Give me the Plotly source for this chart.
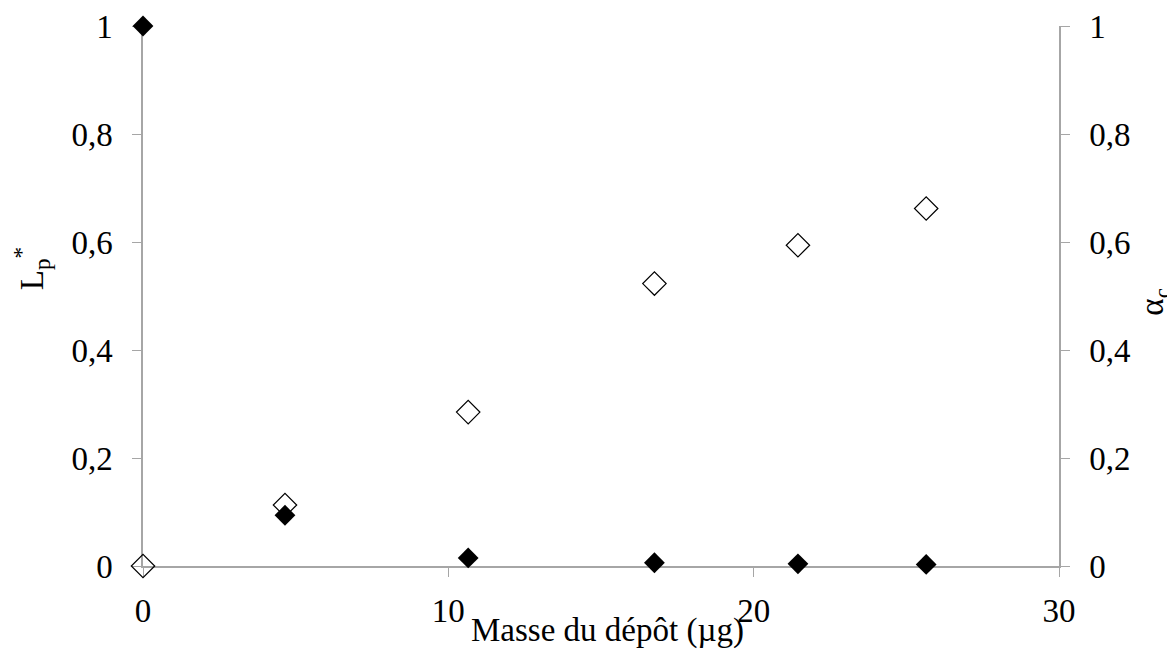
import plotly.graph_objects as go

masse = [0, 4.65, 10.65, 16.75, 21.45, 25.65]
lp_star = [1.0, 0.094, 0.015, 0.006, 0.004, 0.003]
alpha_c = [0.0, 0.113, 0.285, 0.523, 0.594, 0.662]

FONT = "Liberation Serif, Times New Roman, serif"
AX = "#a6a6a6"
FS = 33

fig = go.Figure()
fig.add_trace(go.Scatter(x=masse, y=alpha_c, mode="markers", yaxis="y2",
                         marker=dict(symbol="diamond-open", size=18, color="black",
                                     line=dict(width=1.2, color="black")),
                         name="α_c"))
fig.add_trace(go.Scatter(x=masse, y=lp_star, mode="markers",
                         marker=dict(symbol="diamond", size=16, color="black"),
                         name="L_p*"))

common = dict(showgrid=False, zeroline=False, showline=True, linecolor=AX, linewidth=1.5,
              ticks="outside", ticklen=9, tickcolor=AX, tickwidth=1.2, automargin=False,
              tickfont=dict(family=FONT, size=FS, color="black"))
yt = [0, 0.2, 0.4, 0.6, 0.8, 1]

fig.update_layout(
    width=1167, height=643,
    margin=dict(l=135, r=116, t=18, b=85),
    plot_bgcolor="white", paper_bgcolor="white",
    separators=", ",
    showlegend=False,
    font=dict(family=FONT, size=FS, color="black"),
    xaxis=dict(range=[0, 30], tickvals=[0, 10, 20, 30], ticklabelstandoff=6, **common),
    yaxis=dict(range=[0, 1], tickvals=yt, ticklabelstandoff=13, **common),
    yaxis2=dict(range=[0, 1], tickvals=yt, overlaying="y", side="right",
                ticklabelstandoff=13, **common),
    annotations=[
        dict(text="Masse du dépôt (µg)", xref="paper", yref="paper", x=0.5066, y=-0.12,
             xanchor="center", yanchor="middle", showarrow=False,
             font=dict(family=FONT, size=FS, color="black")),
        dict(text="L<sub>p</sub><sup>*</sup>", xref="paper", yref="paper", x=-0.122, y=0.55,
             xanchor="center", yanchor="middle", textangle=-90, showarrow=False,
             font=dict(family=FONT, size=FS, color="black")),
        dict(text="α<sub>c</sub>", xref="paper", yref="paper", x=1.104, y=0.49,
             xanchor="center", yanchor="middle", textangle=-90, showarrow=False,
             font=dict(family=FONT, size=FS, color="black")),
    ],
)
fig.update_xaxes(layer="below traces")
fig.update_yaxes(layer="below traces")
fig.update_traces(cliponaxis=False)
fig.write_html("out.html")
